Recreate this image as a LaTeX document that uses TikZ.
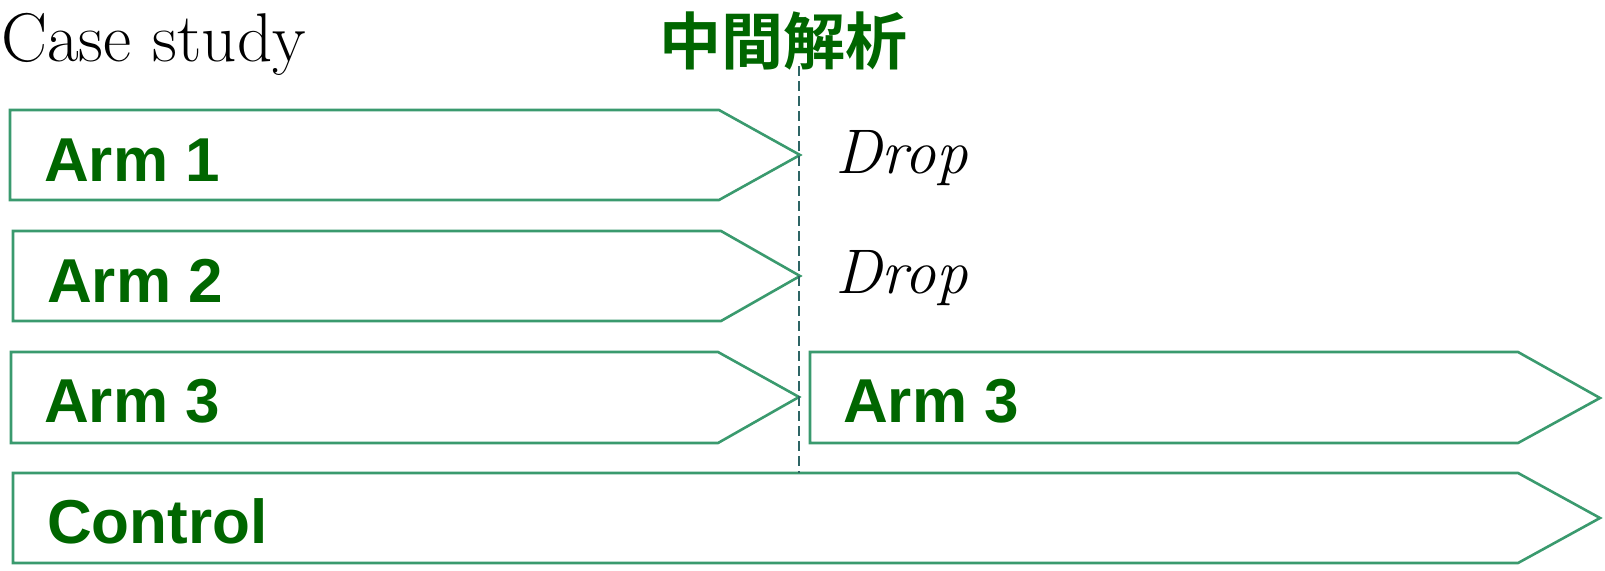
\documentclass[tikz,border=0pt]{standalone}
\usepackage{fontspec}
\newfontfamily\armfont{Liberation Sans}
\newfontfamily\cjk{Noto Sans CJK JP}[BoldFont={Noto Sans CJK JP Bold}]
\definecolor{boxgreen}{HTML}{3A9A6E}
\definecolor{txtgreen}{HTML}{006600}
\definecolor{dashteal}{HTML}{2E6565}
\tikzset{
  armbox/.style={draw=boxgreen, line width=2.6pt, line join=miter},
  armlabel/.style={anchor=base west, inner sep=0pt, text=txtgreen, font=\armfont\bfseries\fontsize{62}{70}\selectfont},
  droplabel/.style={anchor=base west, inner sep=0pt, font=\itshape\fontsize{63}{66}\selectfont},
  interim/.style={draw=dashteal, line width=2.4pt, dash pattern=on 10pt off 5pt},
}
\begin{document}
\begin{tikzpicture}[x=1pt,y=-1pt]
\useasboundingbox (0,0) rectangle (1605,570);
% arrow shapes
\draw[armbox] (10,110) -- (719,110) -- (800,155) -- (719,200) -- (10,200) -- cycle;
\draw[armbox] (13,231) -- (721,231) -- (800,276) -- (721,321) -- (13,321) -- cycle;
\draw[armbox] (11,352) -- (718,352) -- (799,397) -- (718,443) -- (11,443) -- cycle;
\draw[armbox] (810,352) -- (1518,352) -- (1600,398) -- (1518,443) -- (810,443) -- cycle;
\draw[armbox] (13,473) -- (1518,473) -- (1600,518) -- (1518,563) -- (13,563) -- cycle;
% interim analysis line
\coordinate (dtop) at (799,66);
\coordinate (dbot) at (799,473);
\draw[interim] (dtop) -- (dbot);
% texts
\node[anchor=base west, inner sep=0pt, font=\fontsize{69}{74}\selectfont] (case) at (1,61) {Case study};
\node[anchor=center, inner sep=0pt, text=txtgreen, font=\cjk\bfseries\fontsize{62}{66}\selectfont] (ia) at (783,41) {中間解析};
\node[armlabel] (a1) at (44,181) {Arm 1};
\node[armlabel] (a2) at (47,302) {Arm 2};
\node[armlabel] (a3) at (44,422) {Arm 3};
\node[armlabel] (a3b) at (843,422) {Arm 3};
\node[armlabel] (ctl) at (47,543) {Control};
\node[droplabel] (d1) at (835,173) {Drop};
\node[droplabel] (d2) at (835,293) {Drop};
\end{tikzpicture}
\end{document}
